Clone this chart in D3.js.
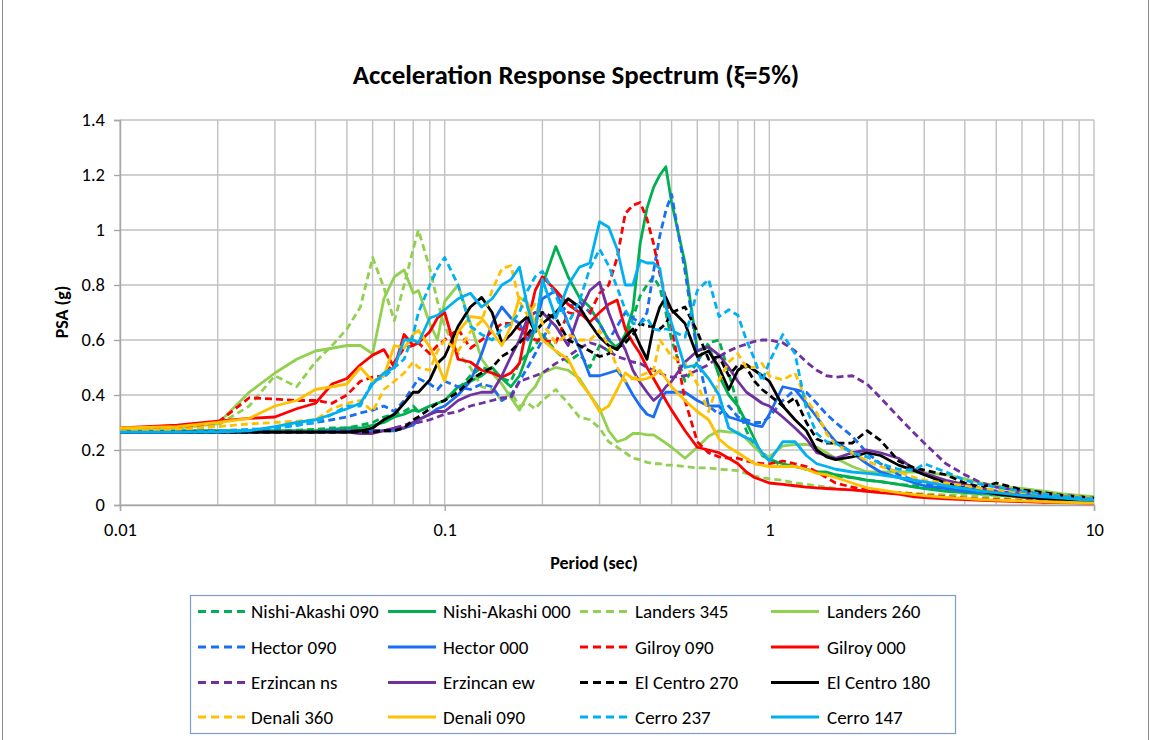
<!DOCTYPE html>
<html>
<head>
<meta charset="utf-8">
<script src="https://cdn.jsdelivr.net/npm/d3@7"></script>
<style>
  body { margin: 0; background: #ffffff; }
  svg { display: block; }
  text { font-family: Carlito, Lato, "Open Sans", sans-serif; fill: #000; }
</style>
</head>
<body>
<svg id="chart" width="1152" height="740"></svg>
<script>
// Periods (sec) shared by every spectrum
const periods = [0.01,0.015,0.02,0.025,0.03,0.035,0.04,0.045,0.05,0.055,
  0.06,0.065,0.07,0.075,0.08,0.083,0.09,0.095,0.1,0.11,
  0.12,0.13,0.14,0.15,0.16,0.17,0.18,0.19,0.2,0.22,
  0.24,0.26,0.28,0.3,0.32,0.34,0.36,0.38,0.4,0.42,
  0.44,0.46,0.48,0.5,0.55,0.6,0.65,0.7,0.75,0.8,
  0.85,0.9,0.95,1.0,1.1,1.2,1.3,1.4,1.5,1.6,
  1.8,2.0,2.2,2.5,2.8,3.0,3.5,4.0,4.5,5.0,
  6.0,7.0,8.0,9.0,10];

// PSA (g) for each record, one value per period
const nishiAkashi090 = [0.27,0.27,0.27,0.27,0.27,0.272,0.275,0.28,0.28,0.29,
  0.30,0.32,0.33,0.34,0.36,0.34,0.36,0.37,0.38,0.42,
  0.47,0.50,0.49,0.46,0.45,0.52,0.55,0.58,0.62,0.56,
  0.52,0.55,0.50,0.58,0.56,0.58,0.60,0.68,0.76,0.80,
  0.83,0.79,0.70,0.60,0.45,0.52,0.59,0.60,0.48,0.36,
  0.27,0.21,0.19,0.17,0.14,0.14,0.13,0.12,0.11,0.105,
  0.10,0.09,0.085,0.075,0.07,0.065,0.055,0.05,0.045,0.04,
  0.035,0.03,0.025,0.02,0.018];
const nishiAkashi000 = [0.27,0.27,0.27,0.27,0.27,0.27,0.27,0.275,0.28,0.28,
  0.29,0.30,0.32,0.33,0.345,0.34,0.36,0.37,0.38,0.43,
  0.45,0.47,0.50,0.46,0.43,0.47,0.55,0.65,0.80,0.94,
  0.83,0.755,0.72,0.66,0.60,0.57,0.62,0.71,0.95,1.08,
  1.155,1.20,1.23,1.10,0.88,0.56,0.58,0.47,0.40,0.36,
  0.30,0.24,0.18,0.165,0.15,0.14,0.13,0.12,0.12,0.11,
  0.10,0.09,0.085,0.075,0.065,0.06,0.05,0.045,0.04,0.035,
  0.03,0.025,0.02,0.017,0.015];
const landers345 = [0.27,0.275,0.29,0.36,0.47,0.43,0.52,0.58,0.64,0.72,
  0.90,0.79,0.67,0.80,0.93,1.0,0.86,0.74,0.65,0.55,
  0.50,0.43,0.42,0.38,0.41,0.36,0.37,0.35,0.38,0.42,
  0.37,0.32,0.31,0.28,0.23,0.21,0.19,0.17,0.165,0.155,
  0.15,0.15,0.145,0.145,0.14,0.135,0.135,0.13,0.128,0.125,
  0.115,0.105,0.10,0.095,0.09,0.08,0.075,0.07,0.065,0.06,
  0.055,0.05,0.047,0.045,0.042,0.04,0.037,0.035,0.032,0.03,
  0.027,0.024,0.02,0.018,0.015];
const landers260 = [0.27,0.28,0.295,0.41,0.48,0.53,0.56,0.57,0.58,0.58,
  0.55,0.75,0.83,0.855,0.77,0.78,0.66,0.60,0.74,0.80,
  0.66,0.53,0.48,0.44,0.39,0.345,0.40,0.43,0.48,0.50,
  0.49,0.46,0.40,0.35,0.27,0.23,0.24,0.26,0.26,0.255,
  0.255,0.24,0.225,0.21,0.17,0.21,0.25,0.27,0.265,0.265,
  0.24,0.21,0.185,0.175,0.215,0.22,0.22,0.21,0.19,0.17,
  0.14,0.12,0.12,0.12,0.12,0.118,0.11,0.095,0.08,0.07,
  0.06,0.05,0.04,0.035,0.03];
const hector090 = [0.27,0.27,0.27,0.27,0.28,0.29,0.30,0.31,0.32,0.335,
  0.345,0.36,0.34,0.38,0.43,0.46,0.44,0.42,0.45,0.43,
  0.42,0.44,0.43,0.38,0.40,0.45,0.50,0.55,0.60,0.70,
  0.72,0.74,0.70,0.66,0.60,0.65,0.70,0.68,0.66,0.70,
  0.85,0.98,1.07,1.13,0.85,0.55,0.36,0.33,0.36,0.32,
  0.31,0.30,0.30,0.32,0.38,0.42,0.41,0.37,0.33,0.30,
  0.25,0.19,0.15,0.11,0.09,0.08,0.065,0.055,0.05,0.045,
  0.035,0.03,0.025,0.02,0.018];
const hector000 = [0.265,0.265,0.265,0.265,0.265,0.265,0.265,0.27,0.27,0.27,
  0.27,0.27,0.27,0.28,0.29,0.31,0.33,0.35,0.36,0.40,
  0.45,0.55,0.66,0.72,0.68,0.66,0.60,0.65,0.75,0.78,
  0.66,0.57,0.47,0.47,0.48,0.49,0.45,0.40,0.36,0.33,
  0.32,0.38,0.41,0.41,0.41,0.38,0.36,0.36,0.32,0.31,
  0.30,0.29,0.285,0.33,0.43,0.42,0.37,0.32,0.27,0.23,
  0.19,0.15,0.12,0.10,0.08,0.07,0.06,0.05,0.045,0.04,
  0.03,0.025,0.02,0.017,0.015];
const gilroy090 = [0.275,0.28,0.30,0.39,0.385,0.38,0.38,0.37,0.40,0.45,
  0.465,0.47,0.52,0.57,0.58,0.59,0.55,0.58,0.60,0.64,
  0.57,0.60,0.63,0.66,0.66,0.64,0.62,0.60,0.60,0.59,
  0.70,0.69,0.70,0.77,0.80,0.90,1.06,1.09,1.10,1.04,
  0.95,0.84,0.75,0.65,0.38,0.23,0.19,0.175,0.17,0.17,
  0.16,0.155,0.15,0.15,0.16,0.15,0.14,0.12,0.10,0.08,
  0.065,0.055,0.05,0.045,0.04,0.035,0.03,0.025,0.022,0.02,
  0.017,0.015,0.012,0.01,0.01];
const gilroy000 = [0.28,0.29,0.305,0.315,0.32,0.35,0.37,0.44,0.46,0.51,
  0.545,0.565,0.50,0.62,0.58,0.59,0.63,0.68,0.70,0.53,
  0.52,0.49,0.48,0.465,0.48,0.515,0.66,0.78,0.83,0.78,
  0.73,0.70,0.665,0.70,0.73,0.745,0.64,0.59,0.55,0.50,
  0.46,0.42,0.38,0.345,0.27,0.21,0.20,0.19,0.17,0.15,
  0.12,0.10,0.09,0.08,0.075,0.07,0.065,0.062,0.06,0.058,
  0.055,0.05,0.045,0.04,0.03,0.027,0.022,0.02,0.017,0.015,
  0.012,0.01,0.009,0.008,0.007];
const erzincanNS = [0.265,0.265,0.265,0.265,0.265,0.265,0.265,0.265,0.27,0.27,
  0.27,0.27,0.28,0.29,0.30,0.30,0.31,0.32,0.33,0.34,
  0.36,0.37,0.38,0.39,0.39,0.45,0.46,0.47,0.48,0.515,
  0.54,0.57,0.59,0.58,0.56,0.54,0.53,0.52,0.515,0.50,
  0.49,0.48,0.47,0.465,0.47,0.49,0.51,0.54,0.56,0.575,
  0.585,0.595,0.60,0.60,0.59,0.56,0.52,0.49,0.47,0.465,
  0.47,0.44,0.39,0.32,0.26,0.225,0.15,0.11,0.08,0.065,
  0.05,0.04,0.035,0.03,0.025];
const erzincanEW = [0.265,0.265,0.265,0.265,0.265,0.265,0.265,0.265,0.265,0.26,
  0.26,0.27,0.28,0.28,0.30,0.31,0.33,0.34,0.34,0.38,
  0.40,0.41,0.41,0.47,0.54,0.60,0.68,0.70,0.70,0.65,
  0.58,0.70,0.78,0.81,0.70,0.62,0.565,0.49,0.445,0.41,
  0.38,0.40,0.43,0.45,0.52,0.56,0.575,0.545,0.50,0.45,
  0.41,0.39,0.37,0.36,0.32,0.28,0.24,0.19,0.18,0.17,
  0.19,0.20,0.19,0.17,0.13,0.115,0.09,0.075,0.06,0.05,
  0.04,0.03,0.025,0.02,0.017];
const elCentro270 = [0.265,0.265,0.265,0.265,0.265,0.265,0.265,0.265,0.265,0.265,
  0.265,0.27,0.27,0.28,0.31,0.32,0.35,0.37,0.38,0.41,
  0.455,0.48,0.50,0.54,0.56,0.59,0.62,0.66,0.70,0.68,
  0.60,0.58,0.56,0.54,0.55,0.57,0.59,0.62,0.66,0.65,
  0.65,0.64,0.66,0.70,0.72,0.63,0.53,0.54,0.47,0.51,
  0.50,0.45,0.42,0.40,0.36,0.39,0.30,0.24,0.225,0.225,
  0.225,0.27,0.235,0.16,0.135,0.127,0.11,0.08,0.065,0.08,
  0.055,0.045,0.035,0.03,0.025];
const elCentro180 = [0.265,0.265,0.265,0.265,0.265,0.265,0.265,0.265,0.265,0.27,
  0.28,0.31,0.33,0.37,0.41,0.41,0.455,0.515,0.54,0.65,
  0.72,0.755,0.70,0.59,0.62,0.66,0.685,0.63,0.66,0.70,
  0.75,0.72,0.66,0.61,0.58,0.565,0.61,0.64,0.58,0.53,
  0.65,0.72,0.755,0.71,0.66,0.54,0.56,0.50,0.42,0.49,
  0.51,0.49,0.47,0.45,0.36,0.31,0.27,0.20,0.175,0.165,
  0.175,0.19,0.18,0.145,0.125,0.11,0.08,0.062,0.05,0.04,
  0.03,0.022,0.018,0.014,0.012];
const denali360 = [0.27,0.275,0.285,0.295,0.30,0.305,0.31,0.35,0.37,0.38,
  0.34,0.42,0.45,0.48,0.52,0.50,0.49,0.56,0.60,0.56,
  0.63,0.67,0.78,0.86,0.87,0.74,0.69,0.73,0.66,0.59,
  0.62,0.60,0.60,0.635,0.58,0.50,0.45,0.46,0.47,0.48,
  0.49,0.60,0.57,0.54,0.515,0.44,0.34,0.455,0.52,0.55,
  0.50,0.50,0.515,0.47,0.455,0.48,0.38,0.335,0.26,0.22,
  0.19,0.16,0.14,0.12,0.10,0.09,0.08,0.07,0.06,0.055,
  0.045,0.04,0.035,0.03,0.025];
const denali090 = [0.28,0.285,0.30,0.315,0.36,0.38,0.42,0.43,0.44,0.50,
  0.45,0.47,0.58,0.57,0.62,0.635,0.575,0.515,0.45,0.63,
  0.685,0.68,0.63,0.58,0.65,0.755,0.735,0.66,0.60,0.56,
  0.53,0.45,0.40,0.34,0.36,0.42,0.48,0.46,0.455,0.46,
  0.47,0.49,0.46,0.43,0.38,0.34,0.31,0.24,0.21,0.19,
  0.17,0.15,0.145,0.14,0.14,0.14,0.13,0.115,0.11,0.10,
  0.08,0.062,0.055,0.045,0.038,0.034,0.028,0.024,0.02,0.018,
  0.015,0.012,0.01,0.009,0.008];
const cerro237 = [0.265,0.265,0.27,0.275,0.28,0.29,0.30,0.33,0.36,0.36,
  0.45,0.465,0.50,0.53,0.62,0.70,0.80,0.86,0.90,0.80,
  0.65,0.62,0.60,0.64,0.66,0.70,0.78,0.83,0.85,0.76,
  0.66,0.74,0.86,0.93,0.87,0.79,0.71,0.66,0.66,0.68,
  0.64,0.635,0.64,0.635,0.61,0.78,0.82,0.685,0.71,0.69,
  0.60,0.53,0.45,0.52,0.62,0.55,0.35,0.26,0.23,0.225,
  0.19,0.175,0.15,0.13,0.127,0.15,0.12,0.09,0.075,0.065,
  0.05,0.04,0.032,0.027,0.022];
const cerro147 = [0.265,0.265,0.265,0.27,0.285,0.30,0.31,0.33,0.35,0.37,
  0.44,0.48,0.50,0.60,0.60,0.59,0.68,0.69,0.71,0.75,
  0.77,0.72,0.75,0.80,0.82,0.865,0.72,0.63,0.82,0.68,
  0.80,0.865,0.88,1.03,1.01,0.93,0.80,0.80,0.89,0.88,
  0.88,0.86,0.72,0.66,0.50,0.51,0.46,0.40,0.28,0.26,
  0.245,0.23,0.19,0.16,0.23,0.23,0.18,0.15,0.14,0.13,
  0.12,0.115,0.11,0.10,0.09,0.085,0.07,0.06,0.05,0.045,
  0.035,0.03,0.025,0.02,0.018];

const seriesNames = ["Nishi-Akashi 090","Nishi-Akashi 000","Landers 345","Landers 260",
  "Hector 090","Hector 000","Gilroy 090","Gilroy 000",
  "Erzincan ns","Erzincan ew","El Centro 270","El Centro 180",
  "Denali 360","Denali 090","Cerro 237","Cerro 147"];
const seriesValues = [nishiAkashi090, nishiAkashi000, landers345, landers260,
  hector090, hector000, gilroy090, gilroy000,
  erzincanNS, erzincanEW, elCentro270, elCentro180,
  denali360, denali090, cerro237, cerro147];
const seriesColors = ["#00b050","#00b050","#92d050","#92d050",
  "#1a6ef5","#1a6ef5","#ff0000","#ff0000",
  "#7030a0","#7030a0","#000000","#000000",
  "#ffc000","#ffc000","#00b0f0","#00b0f0"];
const seriesDashed = [true,false,true,false,true,false,true,false,
  true,false,true,false,true,false,true,false];

const yTicks = [0,0.2,0.4,0.6,0.8,1.0,1.2,1.4];
const yTickLabels = ["0","0.2","0.4","0.6","0.8","1","1.2","1.4"];
const xTicks = [0.01,0.1,1,10];
const xTickLabels = ["0.01","0.1","1","10"];

const svg = d3.select("#chart");
const plot = { left: 120, right: 1094, top: 120, bottom: 505 };

const x = d3.scaleLog().domain([0.01, 10]).range([plot.left, plot.right]);
const y = d3.scaleLinear().domain([0, 1.4]).range([plot.bottom, plot.top]);

// outer frame
svg.append("rect")
  .attr("x", 2.5).attr("y", -3).attr("width", 1146).attr("height", 750)
  .attr("fill", "none").attr("stroke", "#8a8a8a").attr("stroke-width", 1);

// title
svg.append("text")
  .attr("x", 576).attr("y", 84)
  .attr("text-anchor", "middle")
  .style("font-size", "27px").style("font-weight", "bold")
  .text("Acceleration Response Spectrum (\u03BE=5%)");

// gridlines
const grid = svg.append("g").attr("stroke", "#c0c0c0").attr("stroke-width", 1.4);
const logLines = [];
[0.01, 0.1, 1].forEach(dec => { for (let k = 1; k <= 9; k++) logLines.push(dec * k); });
logLines.push(10);
grid.selectAll("line.v").data(logLines).join("line")
  .attr("class", "v")
  .attr("x1", d => x(d)).attr("x2", d => x(d))
  .attr("y1", plot.top).attr("y2", plot.bottom);
grid.selectAll("line.h").data(yTicks).join("line")
  .attr("class", "h")
  .attr("x1", plot.left).attr("x2", plot.right)
  .attr("y1", d => y(d)).attr("y2", d => y(d));

// axes
const yAxis = d3.axisLeft(y).tickValues(yTicks)
  .tickFormat((d, i) => yTickLabels[i]).tickSize(6).tickPadding(9);
const gy = svg.append("g").attr("transform", `translate(${plot.left},0)`).call(yAxis);
const xAxis = d3.axisBottom(x).tickValues(xTicks)
  .tickFormat((d, i) => xTickLabels[i]).tickSize(6).tickPadding(12);
const gx = svg.append("g").attr("transform", `translate(0,${plot.bottom})`).call(xAxis);
[gx, gy].forEach(g => {
  g.select(".domain").attr("stroke", "#a6a6a6").attr("stroke-width", 1.4);
  g.selectAll(".tick line").attr("stroke", "#a6a6a6").attr("stroke-width", 1.4);
  g.selectAll(".tick text").style("font-size", "18.5px").style("font-family", "Carlito, Lato, sans-serif").attr("fill", "#000");
});

// axis titles
svg.append("text")
  .attr("x", 594).attr("y", 569)
  .attr("text-anchor", "middle")
  .style("font-size", "18px").style("font-weight", "bold")
  .text("Period (sec)");
svg.append("text")
  .attr("transform", "translate(68,312) rotate(-90)")
  .attr("text-anchor", "middle")
  .style("font-size", "18px").style("font-weight", "bold")
  .text("PSA (g)");

// spectra
const line = d3.line()
  .x((d, i) => x(periods[i]))
  .y(d => y(d));
const curves = svg.append("g")
  .attr("fill", "none").attr("stroke-width", 2.8)
  .attr("stroke-linejoin", "round");
seriesValues.forEach((vals, s) => {
  curves.append("path")
    .datum(vals)
    .attr("d", line)
    .attr("stroke", seriesColors[s])
    .attr("stroke-dasharray", seriesDashed[s] ? "7,4" : null);
});

// legend
const legend = svg.append("g");
legend.append("rect")
  .attr("x", 190.5).attr("y", 595.5).attr("width", 765).attr("height", 138)
  .attr("fill", "#fff").attr("stroke", "#7f9cc9").attr("stroke-width", 1.2);
const colLineX = [198, 388, 580, 771];
const colTextX = [251, 443, 635, 827];
const rowY = [611.5, 647, 682.5, 717];
seriesNames.forEach((name, i) => {
  const c = i % 4, r = Math.floor(i / 4);
  legend.append("line")
    .attr("x1", colLineX[c]).attr("x2", colLineX[c] + 48)
    .attr("y1", rowY[r]).attr("y2", rowY[r])
    .attr("stroke", seriesColors[i]).attr("stroke-width", 3)
    .attr("stroke-dasharray", seriesDashed[i] ? "8,5" : null);
  legend.append("text")
    .attr("x", colTextX[c]).attr("y", rowY[r])
    .attr("dy", "0.35em")
    .style("font-size", "19px")
    .text(name);
});
</script>
</body>
</html>
